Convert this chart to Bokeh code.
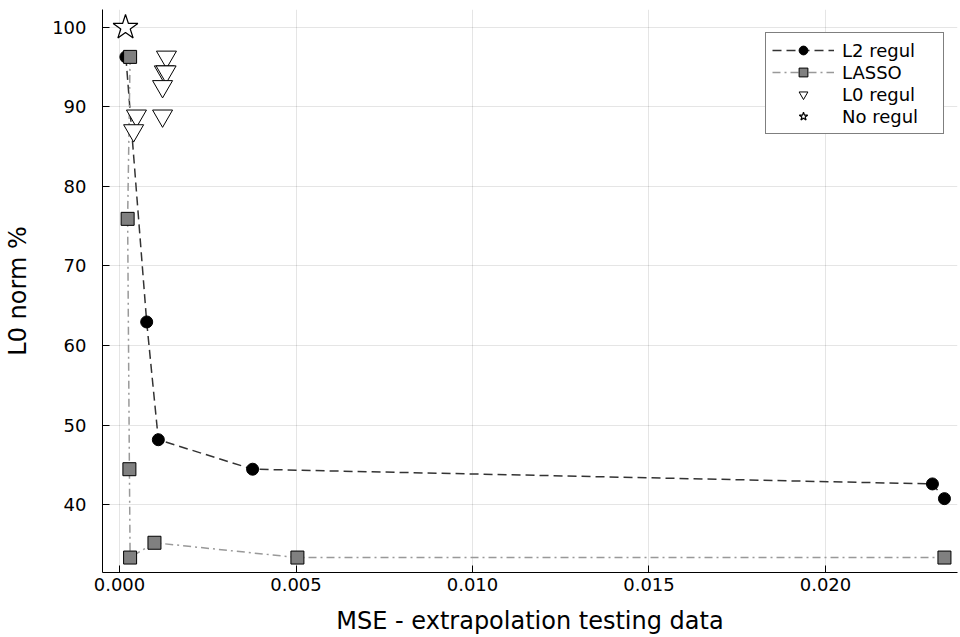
from bokeh.plotting import figure
from bokeh.models import Range1d, FixedTicker, NumeralTickFormatter, Legend, LegendItem
from bokeh.embed import file_html
from bokeh.resources import INLINE

# ---- data ----
l2_mse = [0.00018, 0.00077, 0.00110, 0.00377, 0.02303, 0.02337]
l2_l0 = [96.30, 62.96, 48.15, 44.44, 42.59, 40.74]

lasso_mse = [0.00030, 0.00023, 0.00028, 0.00030, 0.00099, 0.00504, 0.02337]
lasso_l0 = [96.30, 75.93, 44.44, 33.33, 35.19, 33.33, 33.33]

l0_mse = [0.00133, 0.00127, 0.00132, 0.00122, 0.00048, 0.00122, 0.00040]
l0_l0 = [96.30, 94.44, 94.44, 92.59, 88.89, 88.89, 87.04]

noreg_mse = [0.00017]
noreg_l0 = [100.0]

x_ticks = [0.0, 0.005, 0.010, 0.015, 0.020]
y_ticks = [40, 50, 60, 70, 80, 90, 100]

FONT = "DejaVu Sans"

p = figure(width=960, height=637, output_backend="svg", toolbar_location=None,
           x_range=Range1d(-0.000482, 0.02374), y_range=Range1d(31.45, 102.26),
           min_border_left=102, min_border_right=3, min_border_top=9, min_border_bottom=63)
p.outline_line_color = None
p.background_fill_color = "white"

for ax in (p.xaxis[0], p.yaxis[0]):
    ax.axis_line_color = "black"
    ax.axis_line_width = 1
    ax.major_tick_in = 7
    ax.major_tick_out = 0
    ax.minor_tick_line_color = None
    ax.major_tick_line_color = "black"
    ax.major_label_text_font = FONT
    ax.major_label_text_font_size = "18px"
    ax.major_label_text_color = "black"
    ax.axis_label_text_font = FONT
    ax.axis_label_text_font_size = "24px"
    ax.axis_label_text_font_style = "normal"
    ax.axis_label_text_color = "black"

p.xaxis.ticker = FixedTicker(ticks=x_ticks)
p.xaxis.formatter = NumeralTickFormatter(format="0.000")
p.yaxis.ticker = FixedTicker(ticks=y_ticks)
p.xaxis.axis_label = "MSE - extrapolation testing data"
p.yaxis.axis_label = "L0 norm %"
p.xaxis.major_label_standoff = 5
p.xaxis.axis_label_standoff = 13
p.yaxis.major_label_standoff = 16
p.yaxis.axis_label_standoff = 17

p.xgrid.ticker = FixedTicker(ticks=x_ticks)
p.ygrid.ticker = FixedTicker(ticks=y_ticks)
for g in (p.xgrid[0], p.ygrid[0]):
    g.grid_line_color = "black"
    g.grid_line_alpha = 0.1
    g.grid_line_width = 1

l2_line = p.line(l2_mse, l2_l0, line_color="#333333", line_width=1.5, line_dash="9 5")
lasso_line = p.line(lasso_mse, lasso_l0, line_color="#999999", line_width=1.5, line_dash="8 4 2 4")
l2_pts = p.scatter(l2_mse, l2_l0, marker="circle", size=12, fill_color="black", line_color="black")
lasso_pts = p.scatter(lasso_mse, lasso_l0, marker="square", size=13, fill_color="#808080",
                      line_color="black", line_width=1)
l0_pts = p.scatter(l0_mse, l0_l0, marker="inverted_triangle", size=20, fill_color="white",
                   line_color="black", line_width=1)
star_pts = p.scatter(noreg_mse, noreg_l0, marker="star", size=26, fill_color="white",
                     line_color="black", line_width=1.2)

legend = Legend(items=[
    LegendItem(label="L2 regul", renderers=[l2_line, l2_pts]),
    LegendItem(label="LASSO", renderers=[lasso_line, lasso_pts]),
    LegendItem(label="L0 regul", renderers=[l0_pts]),
    LegendItem(label="No regul", renderers=[star_pts]),
], location=(663, 438))
legend.border_line_color = "black"
legend.border_line_width = 1
legend.background_fill_color = "white"
legend.background_fill_alpha = 1
legend.label_text_font = FONT
legend.label_text_font_size = "18px"
legend.label_text_color = "black"
legend.glyph_width = 62
legend.glyph_height = 22
legend.label_height = 22
legend.label_width = 95
legend.spacing = 0
legend.padding = 6
legend.margin = 0
legend.label_standoff = 8
p.add_layout(legend)

open("out.html", "w").write(file_html(p, INLINE))
